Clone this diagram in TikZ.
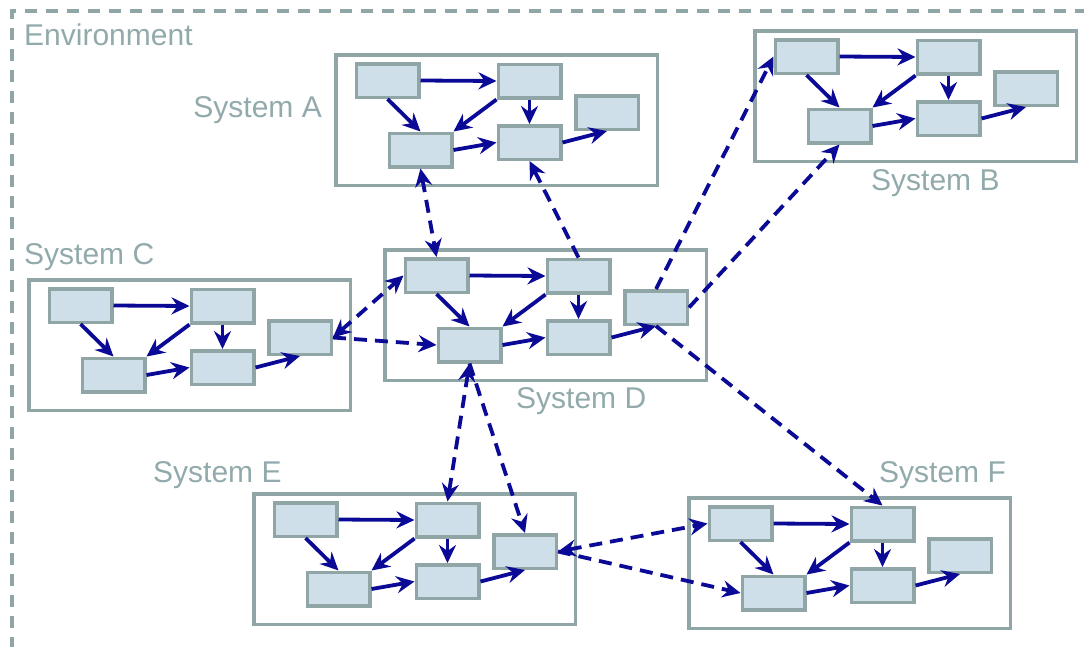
\documentclass[tikz,border=0pt]{standalone}
\usepackage{fontspec}
\newfontfamily\labfont{Liberation Sans}
\usetikzlibrary{arrows.meta}
\definecolor{grayline}{RGB}{143,165,166}
\definecolor{graytext}{RGB}{146,170,171}
\definecolor{boxfill}{RGB}{207,223,233}
\definecolor{navy}{RGB}{10,10,150}
\tikzset{
  sysbox/.style={draw=grayline, line width=3.5pt, fill=white, minimum width=321.5pt, minimum height=130.5pt, inner sep=0pt},
  inbox/.style={draw=grayline, line width=3.5pt, fill=boxfill, minimum width=62.5pt, minimum height=33.5pt, inner sep=0pt},
  arr/.style={draw=navy, line width=3.8pt, -{Stealth[length=18pt,width=17pt,inset=6pt]}},
  darr/.style={draw=navy, line width=3.8pt, dash pattern=on 13pt off 8pt},
  tipb/.style={{Stealth[length=18pt,width=17pt,inset=6pt]}-{Stealth[length=18pt,width=17pt,inset=6pt]}},
  tipe/.style={-{Stealth[length=18pt,width=17pt,inset=6pt]}},
  envline/.style={draw=grayline, line width=3.2pt, dash pattern=on 12pt off 9pt},
  lab/.style={text=graytext, font=\labfont\fontsize{30}{35}\selectfont, inner sep=0pt}
}
\newcommand{\mksys}[3]{%
\begin{scope}[shift={(#2,#3)}]
\node[sysbox] (#1) at (162.5,67) {};
\node[inbox] (#1-1) at (53.5,27.5) {};
\node[inbox] (#1-2) at (195.5,28) {};
\node[inbox] (#1-3) at (86.5,97) {};
\node[inbox] (#1-4) at (195.5,89.5) {};
\node[inbox] (#1-5) at (273,59.5) {};
\draw[arr] (#1-1.east) -- (#1-2.west);
\draw[arr] (#1-1.south) -- (#1-3.north);
\draw[arr] (#1-2.south west) -- (#1-3.north east);
\draw[arr] (#1-2.south) -- (#1-4.north);
\draw[arr] (#1-3.east) -- (#1-4.west);
\draw[arr] (#1-4.east) -- (#1-5.south);
\end{scope}}
\begin{document}
\begin{tikzpicture}[x=1pt,y=-1pt]
\useasboundingbox (0,0) rectangle (1084,646);
\fill[white] (0,0) rectangle (1084,646);
\begin{scope}
\clip (0,0) rectangle (1084,646);
\draw[envline] (12,670) -- (12,11) -- (1110,11);
\end{scope}
\node[lab, anchor=base west] (envlab) at (24,45) {Environment};
\mksys{A}{334}{53}
\mksys{B}{753}{29}
\mksys{C}{27}{278}
\mksys{D}{383}{248}
\mksys{E}{252}{492}
\mksys{F}{687}{496}
\node[lab, anchor=base east] (labA) at (322,117) {System A};
\node[lab, anchor=base west] (labB) at (871,190) {System B};
\node[lab, anchor=base west] (labC) at (24,264) {System C};
\node[lab, anchor=base west] (labD) at (516,408) {System D};
\node[lab, anchor=base west] (labE) at (153,482) {System E};
\node[lab, anchor=base west] (labF) at (879,482) {System F};
\draw[darr, tipb] (A-3.south) -- (D-1.north);
\draw[darr, tipe] (D-2.north) -- (A-4.south);
\draw[darr, tipb] (C-5.east) -- (D-1.west);
\draw[darr, tipe] (C-5.east) -- (D-3.west);
\draw[darr, tipe] (D-5.north) -- (B-1.west);
\draw[darr, tipe] (D-5.east) -- (B-3.south);
\draw[darr, tipe] (D-5.south) -- (F-2.north);
\draw[darr, tipb] (D-3.south) -- (E-2.north);
\draw[darr, tipe] (D-3.south) -- (E-5.north);
\draw[darr, tipb] (E-5.east) -- (F-1.west);
\draw[darr, tipe] (E-5.east) -- (F-3.west);
\end{tikzpicture}
\end{document}
